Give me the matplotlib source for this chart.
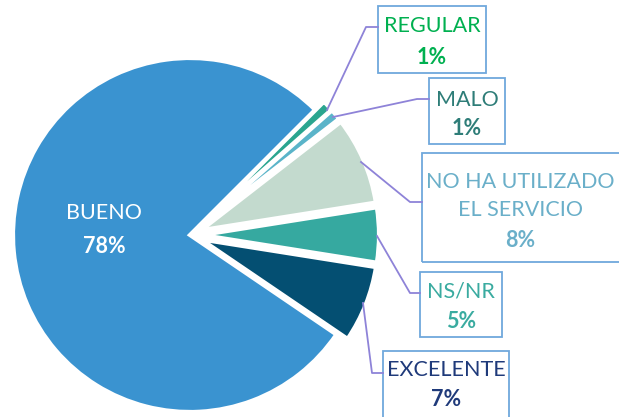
import matplotlib.pyplot as plt

labels = ['BUENO', 'EXCELENTE', 'NS/NR', 'NO HA UTILIZADO\nEL SERVICIO', 'MALO', 'REGULAR']
values = [78, 7, 5, 8, 1, 1]
colors = ['#3A93D0', '#044F72', '#36A9A0', '#C3DACE', '#5AB4C9', '#2AA58F']
text_colors = ['white', '#1F3A7A', '#3AABA0', '#6AAFC9', '#2E7D78', '#00B050']

W, H = 619, 417
fig = plt.figure(figsize=(W / 100, H / 100), dpi=100)
ax = fig.add_axes([0, 0, 1, 1])

def py(y):
    # pixel row -> data y
    return H - y

# explode is in data units here (pixels)
ax.pie(values, colors=colors, startangle=45, center=(190, py(235)), radius=177,
       explode=[0, 12, 12, 12, 12, 12],
       wedgeprops=dict(edgecolor='white', linewidth=3), frame=True)
ax.set_xlim(0, W)
ax.set_ylim(0, H)
ax.set_aspect('equal')
ax.axis('off')

plt.rcParams['font.family'] = ['Lato', 'DejaVu Sans']
fs = 15.5

# BUENO label inside
ax.text(104, py(213), labels[0], color='white', fontsize=fs, ha='center', va='center')
ax.text(104, py(246), f'{values[0]}%', color='white', fontsize=fs, fontweight='bold',
        ha='center', va='center')

# boxes: (x0, y0, x1, y1) in pixels, connector points, text rows
boxes = {
    5: dict(box=(378, 6, 486, 73), line=[(327, 110), (366, 27), (378, 27)], rows=(26, 57)),
    4: dict(box=(429, 78, 505, 144), line=[(333, 117), (417, 99), (429, 99)], rows=(100, 128)),
    3: dict(box=(422, 153, 621, 262), line=[(361, 162), (410, 202), (422, 202)], rows=(196, 240)),
    2: dict(box=(420, 272, 502, 337), line=[(377, 236), (410, 293), (420, 293)], rows=(292, 322)),
    1: dict(box=(383, 351, 509, 420), line=[(363, 303), (372, 373), (383, 373)], rows=(370, 400)),
}
for i, b in boxes.items():
    x0, y0, x1, y1 = b['box']
    ax.add_patch(plt.Rectangle((x0, py(y1)), x1 - x0, y1 - y0, fill=False,
                               edgecolor='#6FA8DC', linewidth=1.3, clip_on=False))
    xs = [p[0] for p in b['line']]
    ys = [py(p[1]) for p in b['line']]
    ax.plot(xs, ys, color='#8E83D8', linewidth=1.3)
    cx = (x0 + min(x1, W)) / 2
    ax.text(cx, py(b['rows'][0]), labels[i], color=text_colors[i], fontsize=fs,
            ha='center', va='center', linespacing=1.45)
    ax.text(cx, py(b['rows'][1]), f'{values[i]}%', color=text_colors[i], fontsize=fs,
            fontweight='bold', ha='center', va='center')

fig.savefig('out.png', dpi=100)
